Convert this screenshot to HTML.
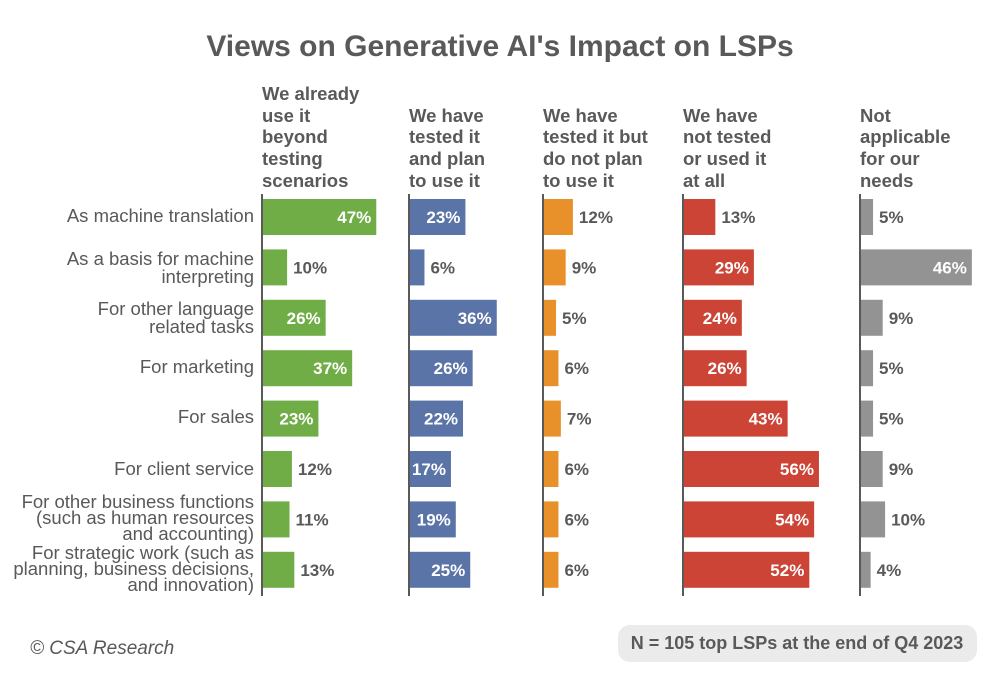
<!DOCTYPE html>
<html><head><meta charset="utf-8"><style>body{margin:0;background:#fff}svg{display:block}text{font-family:"Liberation Sans",sans-serif;fill:#595959}</style></head><body>
<svg width="1000" height="676" xmlns="http://www.w3.org/2000/svg">
<text x="500" y="56" text-anchor="middle" font-size="30" font-weight="bold">Views on Generative AI's Impact on LSPs</text>
<g font-size="18.5" font-weight="bold">
<text x="262" y="100">We already</text><text x="262" y="122">use it</text><text x="262" y="143">beyond</text><text x="262" y="165">testing</text><text x="262" y="187">scenarios</text>
<text x="409" y="122">We have</text><text x="409" y="143">tested it</text><text x="409" y="165">and plan</text><text x="409" y="187">to use it</text>
<text x="543" y="122">We have</text><text x="543" y="143">tested it but</text><text x="543" y="165">do not plan</text><text x="543" y="187">to use it</text>
<text x="683" y="122">We have</text><text x="683" y="143">not tested</text><text x="683" y="165">or used it</text><text x="683" y="187">at all</text>
<text x="860" y="122">Not</text><text x="860" y="143">applicable</text><text x="860" y="165">for our</text><text x="860" y="187">needs</text>
</g>
<g font-size="18.5" text-anchor="end">
<text x="254" y="222">As machine translation</text>
<text x="254" y="265">As a basis for machine</text><text x="254" y="283">interpreting</text>
<text x="254" y="315">For other language</text><text x="254" y="333">related tasks</text>
<text x="254" y="373">For marketing</text>
<text x="254" y="423">For sales</text>
<text x="254" y="475">For client service</text>
<text x="254" y="508">For other business functions</text><text x="254" y="524">(such as human resources</text><text x="254" y="540">and accounting)</text>
<text x="254" y="559">For strategic work (such as</text><text x="254" y="575">planning, business decisions,</text><text x="254" y="591">and innovation)</text>
</g>
<g id="bars" font-size="17" font-weight="bold"></g>
<text x="30" y="654" font-size="19" font-style="italic" fill="#777">© CSA Research</text>
<rect x="618" y="625" width="359" height="37" rx="12" fill="#ebebeb"/>
<text x="797" y="649" font-size="18" font-weight="bold" text-anchor="middle">N = 105 top LSPs at the end of Q4 2023</text>
</svg>
<script>
var d=[[47,10,26,37,23,12,11,13],[23,6,36,26,22,17,19,25],[12,9,5,6,7,6,6,6],[13,29,24,26,43,56,54,52],[5,46,9,5,5,9,10,4]];
var xs=[262,409,543,683,860],cols=["#70ad47","#5b74a8","#e8912a","#cc4435","#939393"];
var g=document.getElementById("bars"),s="";
for(var c=0;c<5;c++){var x=xs[c];s+='<line x1="'+x+'" y1="194" x2="'+x+'" y2="596" stroke="#595959" stroke-width="2"/>';
for(var r=0;r<8;r++){var v=d[c][r],w=v*2.41,yc=217+r*50.4;
s+='<rect x="'+(x+1)+'" y="'+(yc-18)+'" width="'+w+'" height="36" fill="'+cols[c]+'"/>';
if(v>=15)s+='<text x="'+(x+1+w-5)+'" y="'+(yc+6)+'" text-anchor="end" style="fill:#fff">'+v+'%</text>';
else s+='<text x="'+(x+1+w+6)+'" y="'+(yc+6)+'">'+v+'%</text>';}}
g.innerHTML=s;
</script>
</body></html>
